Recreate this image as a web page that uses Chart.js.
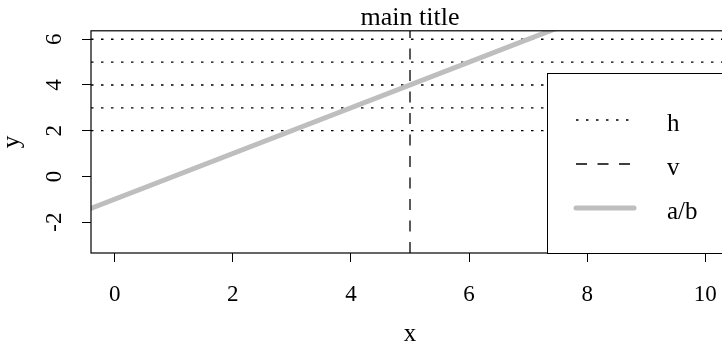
<!DOCTYPE html>
<html>
<head>
<meta charset="utf-8">
<script src="https://cdn.jsdelivr.net/npm/chart.js@4"></script>
<style>
  html, body { margin: 0; padding: 0; overflow: hidden; background: #fff; }
  #wrap { width: 740px; height: 347px; }
</style>
</head>
<body>
<div id="wrap"><canvas id="chart" width="740" height="347"></canvas></div>
<script>
// ---- data ----
const hValues = [2, 3, 4, 5, 6];      // abline(h = ...)
const vValue = 5;                     // abline(v = ...)
const abX = [-1, 11];                 // a/b line end points
const abY = [-2, 10];
const xTicks = [0, 2, 4, 6, 8, 10];
const yTicks = [-2, 0, 2, 4, 6];
const xRange = [-0.4, 10.4];
const yRange = [-3.35, 6.37];
const legendLabels = ["h", "v", "a/b"];
const mainTitle = "main title";
const xTitle = "x";
const yTitle = "y";

const FONT = '"Liberation Serif", "Times New Roman", serif';

const ctx = document.getElementById("chart").getContext("2d");

const lineBase = { showLine: true, pointRadius: 0, tension: 0, clip: 0, fill: false };

const datasets = [
  {
    ...lineBase,
    label: "a/b",
    data: abX.map((x, i) => ({ x: x, y: abY[i] })),
    borderColor: "#BEBEBE",
    borderWidth: 5,
    borderCapStyle: "round",
  },
  {
    ...lineBase,
    label: "v",
    data: [{ x: vValue, y: yRange[0] }, { x: vValue, y: yRange[1] }],
    borderColor: "#000",
    borderWidth: 1.3,
    borderDash: [11, 10.5],
  },
  ...hValues.map((h) => ({
    ...lineBase,
    label: "h",
    data: [{ x: xRange[0], y: h }, { x: xRange[1], y: h }],
    borderColor: "#000",
    borderWidth: 1.3,
    borderDash: [2.5, 7.5],
  })),
];

// рамка вокруг области графика + заголовок
const framePlugin = {
  id: "frame",
  afterDatasetsDraw(chart) {
    const { ctx, chartArea: { left, right, top, bottom } } = chart;
    ctx.save();
    ctx.strokeStyle = "#000";
    ctx.lineWidth = 1.2;
    ctx.strokeRect(left, top, right - left, bottom - top);
    ctx.font = "26px " + FONT;
    ctx.fillStyle = "#000";
    ctx.textAlign = "center";
    ctx.textBaseline = "alphabetic";
    ctx.fillText(mainTitle, (left + right) / 2, 25);
    ctx.restore();
  },
};

// легенда в правом нижнем углу
const legendPlugin = {
  id: "rLegend",
  afterDraw(chart) {
    const { ctx, chartArea: { right, bottom } } = chart;
    const boxLeft = 547, boxTop = 73;
    const rows = [120, 164, 208];
    ctx.save();
    ctx.fillStyle = "#fff";
    ctx.fillRect(boxLeft, boxTop, right - boxLeft, bottom - boxTop);
    ctx.strokeStyle = "#000";
    ctx.lineWidth = 1;
    ctx.strokeRect(boxLeft + 0.5, boxTop + 0.5, right - boxLeft, bottom - boxTop);

    legendLabels.forEach((lab, i) => {
      const ds = chart.data.datasets.find((d) => d.label === lab);
      const y = rows[i];
      ctx.beginPath();
      ctx.setLineDash(ds.borderDash || []);
      ctx.lineCap = ds.borderCapStyle || "butt";
      ctx.strokeStyle = ds.borderColor;
      ctx.lineWidth = ds.borderWidth;
      ctx.moveTo(576, y);
      ctx.lineTo(634, y);
      ctx.stroke();

      ctx.setLineDash([]);
      ctx.font = "25px " + FONT;
      ctx.fillStyle = "#000";
      ctx.textAlign = "left";
      ctx.textBaseline = "alphabetic";
      ctx.fillText(lab, 667, y + 10.5);
    });
    ctx.restore();
  },
};

new Chart(ctx, {
  type: "scatter",
  data: { datasets: datasets },
  options: {
    responsive: false,
    animation: false,
    layout: { padding: { top: 28, right: 11, left: 0, bottom: 0 } },
    plugins: {
      legend: { display: false },
      tooltip: { enabled: false },
    },
    scales: {
      x: {
        type: "linear",
        min: xRange[0],
        max: xRange[1],
        afterBuildTicks: (s) => { s.ticks = xTicks.map((v) => ({ value: v })); },
        afterFit: (s) => { s.height = 94; },
        grid: { drawOnChartArea: false, drawTicks: true, tickLength: 9, color: "#000", lineWidth: 1 },
        border: { display: false },
        ticks: {
          color: "#000",
          padding: 18.7,
          maxRotation: 0,
          autoSkip: false,
          font: { family: FONT, size: 23 },
        },
        title: {
          display: true,
          text: xTitle,
          color: "#000",
          font: { family: FONT, size: 25, lineHeight: 1 },
          padding: { top: 0, bottom: 0 },
        },
      },
      y: {
        type: "linear",
        min: yRange[0],
        max: yRange[1],
        afterBuildTicks: (s) => { s.ticks = yTicks.map((v) => ({ value: v })); },
        afterFit: (s) => { s.width = 91; },
        grid: { drawOnChartArea: false, drawTicks: true, tickLength: 9, color: "#000", lineWidth: 1 },
        border: { display: false },
        ticks: {
          color: "#000",
          padding: 17,
          minRotation: 90,
          maxRotation: 90,
          crossAlign: "center",
          autoSkip: false,
          font: { family: FONT, size: 23 },
        },
        title: {
          display: true,
          text: yTitle,
          color: "#000",
          font: { family: FONT, size: 25, lineHeight: 1 },
          padding: { top: 0, bottom: 0 },
        },
      },
    },
  },
  plugins: [framePlugin, legendPlugin],
});
</script>
</body>
</html>
